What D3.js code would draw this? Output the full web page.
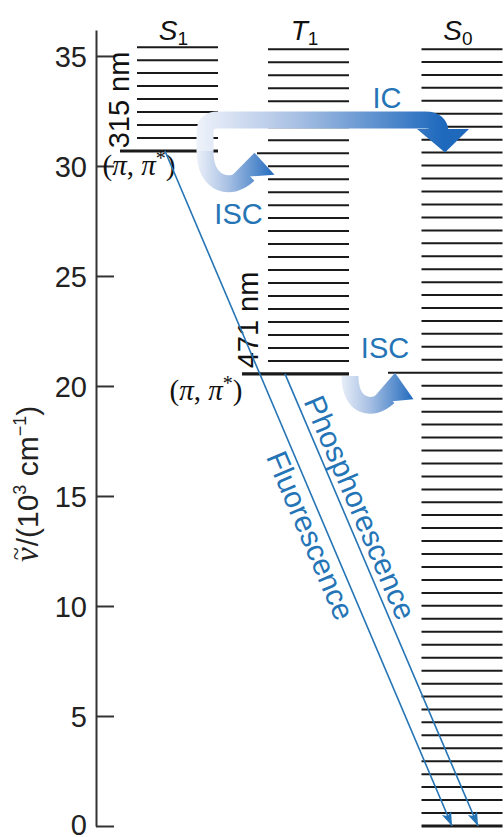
<!DOCTYPE html>
<html><head><meta charset="utf-8">
<script src="https://cdn.jsdelivr.net/npm/d3@7"></script>
<style>body{margin:0;background:#fff} svg{display:block}</style>
</head><body>
<svg id="c" width="504" height="837"></svg>
<script>
// ---- data (energies in 10^3 cm^-1) ----
const states = ["S1", "T1", "S0"];
const stateBase = ["S", "T", "S"];
const stateSub = ["1", "1", "0"];
const yTicks = [0, 5, 10, 15, 20, 25, 30, 35];
const s1Levels = [30.68, 31.27, 31.86, 32.45, 33.04, 33.63, 34.22, 34.81, 35.40];
const t1Levels = [20.55, 21.14, 21.73, 22.32, 22.91, 23.50, 24.09, 24.68, 25.27, 25.86,
  26.45, 27.04, 27.63, 28.22, 28.81, 29.40, 29.99, 30.58, 31.17, 31.76,
  32.35, 32.94, 33.53, 34.12, 34.71, 35.30];
const s0Levels = [0, 0.59, 1.18, 1.77, 2.35, 2.94, 3.53, 4.12, 4.71, 5.30,
  5.89, 6.47, 7.06, 7.65, 8.24, 8.83, 9.42, 10.01, 10.59, 11.18,
  11.77, 12.36, 12.95, 13.54, 14.13, 14.71, 15.30, 15.89, 16.48, 17.07,
  17.66, 18.25, 18.83, 19.42, 20.01, 20.60, 21.19, 21.78, 22.37, 22.95,
  23.54, 24.13, 24.72, 25.31, 25.90, 26.49, 27.07, 27.66, 28.25, 28.84,
  29.43, 30.02, 30.61, 31.19, 31.78, 32.37, 32.96, 33.55, 34.14, 34.73, 35.31];
const wavelengths = ["315 nm", "471 nm"];
const emissionNames = ["Fluorescence", "Phosphorescence"];
const processNames = ["IC", "ISC", "ISC"];
const axisTitleSymbol = "ν";
const axisTitle = ["/(10", "3", " cm", "−1", ")"];

// ---- layout ----
const svg = d3.select("#c");
const y = d3.scaleLinear().domain([0, 36.18]).range([826, 30]);
const x = d3.scaleOrdinal().domain(states).range([177.5, 308.5, 462]);
const half = 40.5;
const blue = "#2575b6";
const sans = "'Liberation Sans', Arial, Helvetica, sans-serif";
const serif = "'Liberation Serif', 'Times New Roman', serif";
const P = (s, dx, e) => [x(s) + dx, y(e)];

// gradients
const defs = svg.append("defs");
function grad(id, x1, x2) {
  const g = defs.append("linearGradient").attr("id", id)
    .attr("gradientUnits", "userSpaceOnUse")
    .attr("x1", x1).attr("x2", x2).attr("y1", 0).attr("y2", 0);
  g.append("stop").attr("offset", 0).attr("stop-color", "#eef2fa");
  g.append("stop").attr("offset", 0.4).attr("stop-color", "#a9c1e4");
  g.append("stop").attr("offset", 1).attr("stop-color", "#1f69bd");
}
grad("gIC", x("S1") + 20, x("S0") - 20);
grad("gISC1", x("S1") + 18, x("S1") + 98);
grad("gISC2", x("T1") + 30, x("T1") + 106);
defs.append("marker").attr("id", "ah").attr("viewBox", "-14 -6 16 12")
  .attr("markerUnits", "userSpaceOnUse").attr("markerWidth", 16).attr("markerHeight", 12)
  .attr("refX", 0).attr("refY", 0).attr("orient", "auto")
  .append("path").attr("d", "M0,0 L-14,-5 L-11,0 L-14,5 Z").attr("fill", blue);

// axis
const axis = d3.axisLeft(y).tickValues(yTicks).tickSizeInner(-18).tickSizeOuter(0).tickPadding(9);
const ax = svg.append("g").attr("transform", "translate(96,0)").call(axis);
ax.select(".domain").attr("stroke", "#333").attr("stroke-width", 2);
ax.selectAll(".tick line").attr("stroke", "#333").attr("stroke-width", 2);
ax.selectAll(".tick text").attr("font-family", sans).attr("font-size", 29).attr("fill", "#222")
  .attr("dy", d => d === 0 ? "0.28em" : "0.35em");

// axis title
const ag = svg.append("g").attr("transform", "translate(38,562) rotate(-90)")
  .attr("font-family", sans).attr("font-size", 30).attr("fill", "#222");
const nu = ag.append("text").attr("x", 0).attr("y", 0).attr("font-family", serif)
  .attr("font-style", "italic").attr("font-size", 33).text(axisTitleSymbol);
const nuW = nu.node().getComputedTextLength();
ag.append("text").attr("x", nuW / 2 + 1).attr("y", -14).attr("text-anchor", "middle")
  .attr("font-family", serif).attr("font-size", 24).text("~");
const at = ag.append("text").attr("x", nuW + 1).attr("y", 0);
at.append("tspan").text(axisTitle[0]);
at.append("tspan").attr("font-size", 18).attr("dy", -12).text(axisTitle[1]);
at.append("tspan").attr("dy", 12).text(axisTitle[2]);
at.append("tspan").attr("font-size", 18).attr("dy", -12).text(axisTitle[3]);
at.append("tspan").attr("dy", 12).text(axisTitle[4]);

// levels
const levelSets = { S1: s1Levels, T1: t1Levels, S0: s0Levels };
const extLeft = { S1: { 0: 57.5 }, T1: { 0: 66.5, 17: 51.5 }, S0: { 35: 74 } };
states.forEach(s => {
  svg.append("g").selectAll("line").data(levelSets[s]).join("line")
    .attr("x1", (d, i) => x(s) - (extLeft[s][i] || half))
    .attr("x2", x(s) + half)
    .attr("y1", d => y(d)).attr("y2", d => y(d))
    .attr("stroke", "#1a1a1a")
    .attr("stroke-width", (d, i) => i === 0 ? 3.2 : 2);
});

// state headers
states.forEach((s, i) => {
  const t = svg.append("text").attr("x", x(s) - 4).attr("y", 40).attr("text-anchor", "middle")
    .attr("font-family", sans).attr("fill", "#111");
  t.append("tspan").attr("font-size", 28).attr("font-style", "italic").text(stateBase[i]);
  t.append("tspan").attr("font-size", 19).attr("dy", 5).text(stateSub[i]);
});

// wavelength labels
[P("S1", -48.5, 33.0), P("T1", -51, 23.0)].forEach((p, i) => {
  svg.append("text").attr("transform", `translate(${p[0]},${p[1]}) rotate(-90)`)
    .attr("text-anchor", "middle").attr("font-family", sans).attr("font-size", 29).attr("fill", "#111")
    .text(wavelengths[i]);
});

// (π, π*) labels
[P("S1", -75, 29.6), P("T1", -139, 19.35)].forEach(p => {
  const t = svg.append("text").attr("x", p[0]).attr("y", p[1]).attr("font-family", serif)
    .attr("font-size", 29).attr("fill", "#111");
  t.append("tspan").text("(");
  t.append("tspan").attr("font-style", "italic").text("π");
  t.append("tspan").text(", ");
  t.append("tspan").attr("font-style", "italic").text("π");
  t.append("tspan").attr("font-size", 20).attr("dy", -10).text("*");
  t.append("tspan").attr("dy", 10).text(")");
});

// emission arrows
const emStart = [P("S1", -12.5, s1Levels[0]), P("T1", -23.5, t1Levels[0])];
const emEnd = [P("S0", -10, s0Levels[0]), P("S0", 16, s0Levels[0])];
emissionNames.forEach((name, i) => {
  const [x0, y0] = emStart[i], [x1, y1] = emEnd[i];
  svg.append("line").attr("x1", x0).attr("y1", y0).attr("x2", x1).attr("y2", y1)
    .attr("stroke", blue).attr("stroke-width", 1.6).attr("marker-end", "url(#ah)");
  const dx = x1 - x0, dy = y1 - y0, L = Math.hypot(dx, dy);
  const ux = dx / L, uy = dy / L;
  const upx = uy, upy = -ux;
  const t = i === 0 ? 0.56 : 0.31;
  const off = i === 0 ? -27 : 6;
  const px = x0 + dx * t + upx * off, py = y0 + dy * t + upy * off;
  const ang = Math.atan2(dy, dx) * 180 / Math.PI;
  svg.append("text").attr("transform", `translate(${px},${py}) rotate(${ang})`)
    .attr("text-anchor", "middle").attr("font-family", sans).attr("font-size", 30)
    .attr("fill", blue).text(name);
});

// IC / ISC curved arrows
const icPts = [P("S1", 27.5, 30.68), P("S1", 27.5, 31.55), P("S1", 27.5, 32.09), P("S1", 40.5, 32.09),
  P("S0", -37, 32.09), P("S0", -22, 32.09), P("S0", -22, 31.5)];
const icD = `M${icPts[0]} L${icPts[1]} Q${icPts[2]} ${icPts[3]} L${icPts[4]} Q${icPts[5]} ${icPts[6]}`;
const icHead = [P("S0", -45, 31.68), P("S0", 7, 31.68), P("S0", -17, 30.61)];

const isc1Pts = [P("S1", 27.5, 30.68), P("S1", 27.5, 29.1), P("S1", 54, 28.85), P("S1", 71, 29.6)];
const isc1D = `M${isc1Pts[0]} C${isc1Pts[1]} ${isc1Pts[2]} ${isc1Pts[3]}`;
const isc1Head = [P("S1", 52, 29.45), P("S1", 97, 29.6), P("S1", 77, 30.6)];

const isc2Pts = [P("T1", 41.5, 20.45), P("T1", 41.5, 19.05), P("T1", 64, 18.8), P("T1", 80, 19.5)];
const isc2D = `M${isc2Pts[0]} C${isc2Pts[1]} ${isc2Pts[2]} ${isc2Pts[3]}`;
const isc2Head = [P("T1", 60, 19.2), P("T1", 105, 19.4), P("T1", 86.5, 20.6)];

[[isc1D, isc1Head, "gISC1"], [isc2D, isc2Head, "gISC2"], [icD, icHead, "gIC"]].forEach(([d, h, g]) => {
  svg.append("path").attr("d", d).attr("fill", "none").attr("stroke", `url(#${g})`)
    .attr("stroke-width", 17);
  svg.append("polygon").attr("points", h.map(p => p.join(",")).join(" "))
    .attr("fill", `url(#${g})`);
});

// process labels
[P("S0", -75, 32.65), P("S1", 61, 27.35), P("T1", 76.5, 21.25)].forEach((p, i) => {
  svg.append("text").attr("x", p[0]).attr("y", p[1]).attr("text-anchor", "middle")
    .attr("font-family", sans).attr("font-size", 29).attr("fill", blue).text(processNames[i]);
});
</script>
</body></html>
